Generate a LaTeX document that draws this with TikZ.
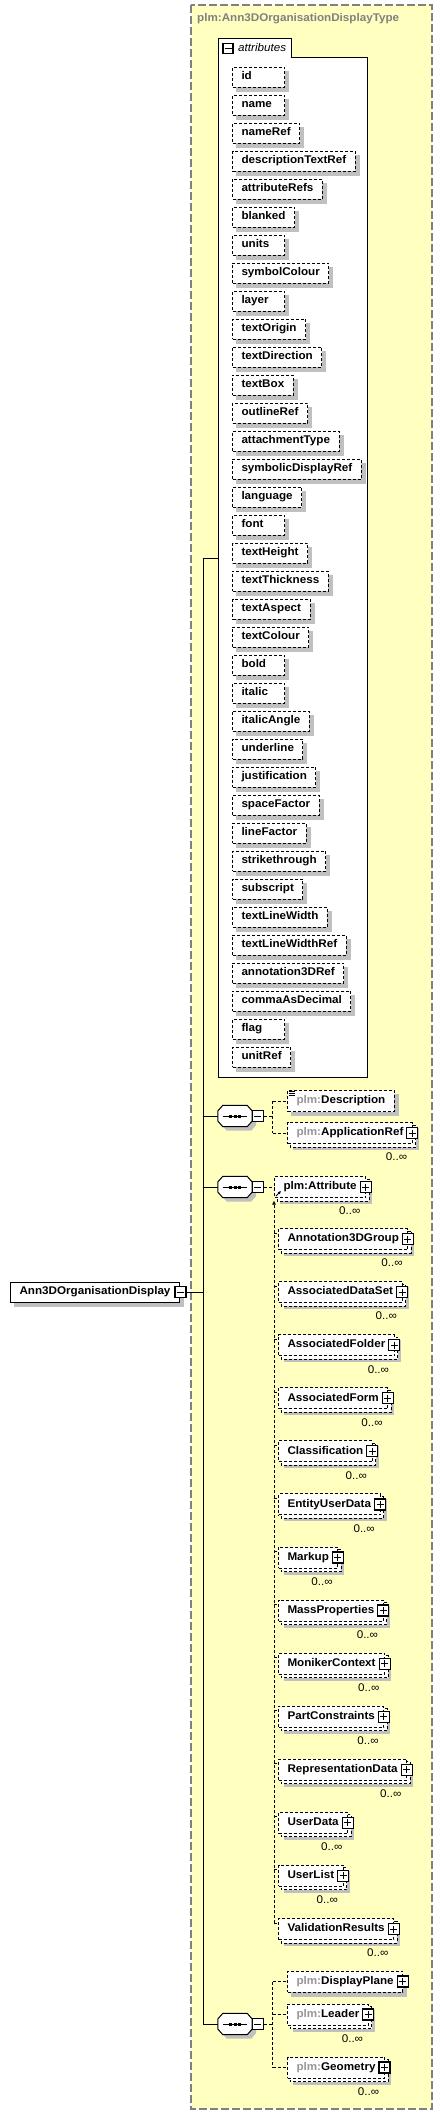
\documentclass[tikz,border=0pt]{standalone}
\usepackage{fontspec}
\setmainfont{Liberation Sans}[FakeStretch=1.045]
\usetikzlibrary{calc,arrows.meta}
\definecolor{ybg}{RGB}{255,255,192}
\definecolor{shd}{RGB}{192,192,192}
\definecolor{bordg}{RGB}{128,128,128}
\definecolor{pfx}{RGB}{150,150,150}
\pgfdeclarelayer{back}\pgfdeclarelayer{mid}\pgfsetlayers{back,mid,main}
\newcommand\nf{\fontsize{11.2}{13}\selectfont}
\newcommand\pl{\textcolor{pfx}{plm:}}
\newsavebox\attrbx
\newcommand\mkattr[1]{\sbox\attrbx{#1}\ifdim\wd\attrbx<34bp\makebox[34bp][l]{#1}\else\usebox\attrbx\fi}
\tikzset{
  dbox/.style={draw=black, line width=1bp, dash pattern=on 3bp off 2bp},
  attr/.style={dbox, fill=white, anchor=west, minimum height=20bp, inner xsep=9bp, inner ysep=0pt,
    text height=8bp, text depth=2.5bp, font=\nf\bfseries},
  elem/.style={attr, minimum height=21bp},
  mainbox/.style={draw=black, line width=1bp, fill=white, anchor=west, minimum height=20bp, inner xsep=9bp,
    inner ysep=0pt, text height=8bp, text depth=2.5bp, font=\nf\bfseries},
  conn/.style={line width=1bp, dash pattern=on 3bp off 2bp},
  sline/.style={line width=1bp},
  icon/.style={draw=black, line width=1.2bp, fill=white, minimum size=11bp, inner sep=0pt},
  plusicon/.style={icon, path picture={\draw[line width=1bp]
      ($(path picture bounding box.center)+(-3.5,0)$) -- ++(7,0)
      ($(path picture bounding box.center)+(0,-3.5)$) -- ++(0,7);}},
  minusicon/.style={icon, path picture={\draw[line width=1bp]
      ($(path picture bounding box.center)+(-3.5,0)$) -- ++(7,0);}},
  occ/.style={font=\nf, inner sep=0pt},
  seqbox/.style={minimum width=34bp, minimum height=21bp, inner sep=0pt},
}
% element: name, x, y, text, kind (0 plain, 1 icon, 2 stacked+icon+0..inf)
\newcommand\elemnode[5]{%
  \node[elem] (#1) at (#2,{#3}) {#4\ifnum#5>0\hspace{4bp}\fi};
  \begin{pgfonlayer}{mid}
  \ifnum#5=2
    \fill[shd] ($(#1.north west)+(6,6)$) rectangle ($(#1.south east)+(6,6)$);
    \draw[dbox,fill=white] ($(#1.north west)+(3,3)$) rectangle ($(#1.south east)+(3,3)$);
  \else
    \fill[shd] ($(#1.north west)+(4,4)$) rectangle ($(#1.south east)+(4,4)$);
  \fi
  \end{pgfonlayer}
  \ifnum#5>0 \node[plusicon] (#1i) at ($(#1.east)+(-0.5,0)$) {};\fi
  \ifnum#5=2 \node[occ, anchor=east] (#1o) at ($(#1i.west |- #1.south)+(1,13)$) {0..∞};\fi
}
% sequence compositor
\newcommand\seqnode[2]{%
  \node[seqbox] (#1) at (235,{#2}) {};
  \begin{pgfonlayer}{mid}
  \fill[shd] ($(#1.west)+(4,-1)$) -- ($(#1.north west)+(9,4)$) -- ($(#1.north east)+(-1,4)$) --
    ($(#1.east)+(4,-1)$) -- ($(#1.east)+(4,9)$) -- ($(#1.south east)+(-1,4)$) --
    ($(#1.south west)+(9,4)$) -- ($(#1.west)+(4,9)$) -- cycle;
  \end{pgfonlayer}
  \draw[sline, fill=white] ($(#1.west)+(0,-5)$) -- ($(#1.north west)+(5,0)$) -- ($(#1.north east)+(-5,0)$) --
    ($(#1.east)+(0,-5)$) -- ($(#1.east)+(0,5)$) -- ($(#1.south east)+(-5,0)$) --
    ($(#1.south west)+(5,0)$) -- ($(#1.west)+(0,5)$) -- cycle;
  \draw[sline] ($(#1.west)+(5,0)$) -- ($(#1.east)+(-5,0)$);
  \foreach \dx in {-4.5,0,4.5} \fill ($(#1.center)+(\dx-1.5,-1.5)$) rectangle ($(#1.center)+(\dx+1.5,1.5)$);
  \node[minusicon] (#1i) at ($(#1.east)+(5.5,0)$) {};
}
\begin{document}
\begin{tikzpicture}[x=1bp, y=-1bp]
\useasboundingbox (0,0) rectangle (443,2115);
\begin{pgfonlayer}{back}
  \fill[white] (0,0) rectangle (443,2115);
  \fill[ybg] (191,5) rectangle (432,2109);
  \draw[bordg, line width=1.2bp, dash pattern=on 8bp off 3bp] (191,5) rectangle (432,2109);
  % attributes container
  \draw[sline, fill=white] (218,38) -- (291,38) -- (291,57) -- (367,57) -- (367,1077) -- (218,1077) -- cycle;
\end{pgfonlayer}

\node[anchor=west, font=\nf\bfseries, text=bordg, inner sep=0pt] (title) at (197,19) {plm:Ann3DOrganisationDisplayType};

% attributes header
\node[minusicon, minimum size=10bp] (atabi) at (228,48.5) {};
\node[anchor=west, font=\nf\itshape, inner sep=0pt] (atabt) at (238,48) {attributes};

\foreach \n [count=\i from 0] in {id,name,nameRef,descriptionTextRef,attributeRefs,blanked,units,symbolColour,layer,textOrigin,textDirection,textBox,outlineRef,attachmentType,symbolicDisplayRef,language,font,textHeight,textThickness,textAspect,textColour,bold,italic,italicAngle,underline,justification,spaceFactor,lineFactor,strikethrough,subscript,textLineWidth,textLineWidthRef,annotation3DRef,commaAsDecimal,flag,unitRef} {
  \node[attr] (a\i) at (232,{77+28*\i}) {\mkattr{\n}};
  \begin{pgfonlayer}{mid}
    \fill[shd] ($(a\i.north west)+(4,4)$) rectangle ($(a\i.south east)+(4,4)$);
  \end{pgfonlayer}
}

% main element
\node[mainbox] (m) at (10,1292) {Ann3DOrganisationDisplay\hspace{2bp}};
\begin{pgfonlayer}{mid}
  \fill[shd] ($(m.north west)+(4,4)$) rectangle ($(m.south east)+(4,4)$);
\end{pgfonlayer}
\node[minusicon] (mi) at ($(m.east)+(0.5,0)$) {};

% trunk
\coordinate (tt) at (203,558);
\coordinate (attrL) at (218,558);
\seqnode{q1}{1116}
\seqnode{q2}{1187}
\seqnode{q3}{2024}
\draw[sline] (tt) -- (q3.west -| tt);
\draw[sline] (tt) -- (attrL);
\draw[sline] (mi.east) -- (mi.east -| tt);
\draw[sline] (q1.west -| tt) -- (q1.west);
\draw[sline] (q2.west -| tt) -- (q2.west);
\draw[sline] (q3.west -| tt) -- (q3.west);

% sequence 1
\elemnode{desc}{287}{1101}{\pl Description}{0}
\draw[line width=0.8bp] ($(desc.north west)+(1.5,1.5)$) -- ++(6,0) ($(desc.north west)+(1.5,3.5)$) -- ++(6,0) ($(desc.north west)+(1.5,5.5)$) -- ++(6,0);
\elemnode{app}{287}{1133}{\pl ApplicationRef}{2}
\draw[conn] (q1i.east) -- ++(9,0) coordinate (q1j);
\draw[conn] (q1j |- desc.west) -- (q1j |- app.west);
\draw[conn] (q1j |- desc.west) -- (desc.west);
\draw[conn] (q1j |- app.west) -- (app.west);

% sequence 2: substitution group
\elemnode{head}{274}{1187}{plm:Attribute}{2}
\draw[line width=1bp, -{Latex[length=3bp,width=3bp]}] ($(head.south west)+(2,-2)$) -- ($(head.south west)+(7,-7)$);
\draw[conn] (q2i.east) -- (head.west);
\foreach \n [count=\k from 0] in {Annotation3DGroup,AssociatedDataSet,AssociatedFolder,AssociatedForm,Classification,EntityUserData,Markup,MassProperties,MonikerContext,PartConstraints,RepresentationData,UserData,UserList,ValidationResults} {
  \elemnode{s\k}{278}{1239+53.08*\k}{\n}{2}
  \draw[conn] ($(s\k.north west)+(-4,5)$) -- ($(s\k.north west)+(0,5)$);
}
\draw[conn, -{Latex[length=4bp,width=4bp]}] ($(s13.north west)+(-4,5)$) -- ($(head.south west)+(0,2.5)$);

% sequence 3
\elemnode{dp}{287}{1981.5}{\pl DisplayPlane}{1}
\elemnode{ld}{287}{2014.5}{\pl Leader}{2}
\elemnode{geo}{287}{2067.5}{\pl Geometry}{2}
\draw[conn] (q3i.east) -- ++(9,0) coordinate (q3j);
\draw[conn] (q3j |- dp.west) -- (q3j |- geo.west);
\draw[conn] (q3j |- dp.west) -- (dp.west);
\draw[conn] (q3j |- ld.west) -- (ld.west);
\draw[conn] (q3j |- geo.west) -- (geo.west);
\end{tikzpicture}
\end{document}
